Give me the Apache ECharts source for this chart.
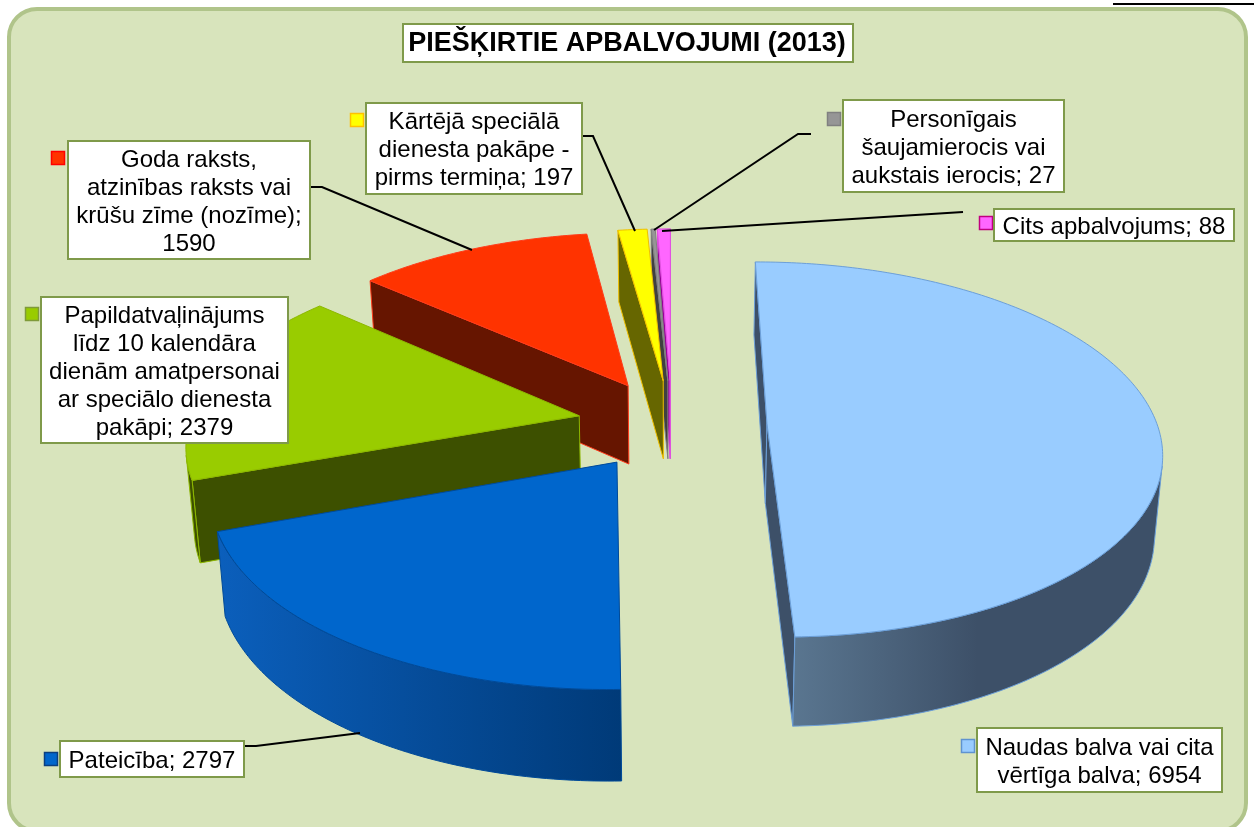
<!DOCTYPE html>
<html>
<head>
<meta charset="utf-8">
<style>html,body{margin:0;padding:0;background:#fff}#c{width:1254px;height:827px}</style>
<script src="https://cdn.jsdelivr.net/npm/echarts@6/dist/echarts.min.js"></script>
</head>
<body>
<div id="c"></div>
<script>
var chartTitle = 'PIEŠĶIRTIE APBALVOJUMI (2013)';
var categories = [
  'Naudas balva vai cita\nvērtīga balva',
  'Pateicība',
  'Papildatvaļinājums\nlīdz 10 kalendāra\ndienām amatpersonai\nar speciālo dienesta\npakāpi',
  'Goda raksts,\natzinības raksts vai\nkrūšu zīme (nozīme);\n',
  'Kārtējā speciālā\ndienesta pakāpe -\npirms termiņa',
  'Personīgais\nšaujamierocis vai\naukstais ierocis',
  'Cits apbalvojums'
];
var awardValues = [6954, 2797, 2379, 1590, 197, 27, 88];

var topColors  = ['#99ccff', '#0066cc', '#99cc00', '#ff3300', '#ffff00', '#969696', '#ff66ff'];
var wallColors = ['#3d5068', '#00509f', '#3d5000', '#661500', '#666600', '#404040', '#990099'];
var edgeColors = ['#6c9fd8', '#004a99', '#8db800', '#ff3b1a', '#f0c000', '#808080', '#e050e0'];
var keyBorders = ['#5f93d0', '#0a3f80', '#7f9a3a', '#ff0000', '#ffc000', '#808080', '#c00080'];
var wallGradients = [
  ['#5a7690', '#3d5068', 0.5],
  ['#0b5fbc', '#003a78', 1],
  null, null, null, null, null
];
var boxes = [
  [977, 728, 245, 64], [60, 741, 184, 36], [41, 297, 247, 146], [68, 141, 242, 118],
  [366, 103, 216, 91], [843, 100, 221, 92], [994, 209, 240, 32]
];
var keys = [[961, 739], [44, 752], [25, 307], [51, 151], [350, 113], [827, 112], [979, 216]];
var leaders = [
  null,
  [[244, 746], [256, 746], [360, 733]],
  null,
  [[310, 187], [322, 187], [472, 250]],
  [[582, 136], [593, 136], [635, 231]],
  [[811, 134], [798, 134], [654, 230]],
  [[963, 212], [662, 231]]
];

// 3D pie projection parameters
var cx = 672, cy = 424, R = 390, explode = 95, tilt = 0.472, depth = 2802, thick = 80, shrink = 0.983;

var total = awardValues.reduce(function (a, b) { return a + b; }, 0);
var slices = [];
var cum = 0;
awardValues.forEach(function (v, i) {
  var a0 = cum / total * Math.PI * 2;
  cum += v;
  var a1 = cum / total * Math.PI * 2;
  slices.push({ i: i, a0: a0, a1: a1, mid: (a0 + a1) / 2 });
});
// Paint back to front
var paintOrder = slices.slice().sort(function (p, q) { return Math.cos(q.mid) - Math.cos(p.mid); });

function proj(X, Y, bottom) {
  var s = 1 / (1 - Y / depth);
  var f = bottom ? shrink : 1;
  return [cx + X * s * f, cy + tilt * Y * s * f + (bottom ? thick * s : 0)];
}
function area(p) {
  var t = 0;
  for (var i = 0; i < p.length; i++) {
    var a = p[i], b = p[(i + 1) % p.length];
    t += a[0] * b[1] - b[0] * a[1];
  }
  return t;
}
function sliceShapes(sl) {
  var ox = explode * Math.sin(sl.mid), oy = -explode * Math.cos(sl.mid);
  var steps = Math.max(3, Math.ceil((sl.a1 - sl.a0) / 0.015));
  var world = [];
  for (var k = 0; k <= steps; k++) {
    var a = sl.a0 + (sl.a1 - sl.a0) * k / steps;
    world.push([ox + R * Math.sin(a), oy - R * Math.cos(a)]);
  }
  var topArc = world.map(function (w) { return proj(w[0], w[1], false); });
  var botArc = world.map(function (w) { return proj(w[0], w[1], true); });
  var apexT = proj(ox, oy, false), apexB = proj(ox, oy, true);
  var out = [];
  var i = sl.i;

  function poly(points, fill) {
    out.push({
      type: 'polygon', shape: { points: points },
      style: { fill: fill, stroke: edgeColors[i], lineWidth: 1 }
    });
  }
  // radial walls
  var w0 = [apexT, topArc[0], botArc[0], apexB];
  if (area(w0) < 0) poly(w0, wallColors[i]);
  var n = topArc.length - 1;
  var w1 = [topArc[n], apexT, apexB, botArc[n]];
  if (area(w1) < 0) poly(w1, wallColors[i]);
  // outer wall: contiguous visible run(s)
  var run = null;
  function flush() {
    if (!run) return;
    var pts = [];
    for (var m = run[0]; m <= run[1]; m++) pts.push(topArc[m]);
    for (var q = run[1]; q >= run[0]; q--) pts.push(botArc[q]);
    var g = wallGradients[i];
    var fill = g
      ? new echarts.graphic.LinearGradient(0, 0, 1, 0, [
          { offset: 0, color: g[0] }, { offset: g[2], color: g[1] }, { offset: 1, color: g[1] }
        ])
      : wallColors[i];
    poly(pts, fill);
    run = null;
  }
  for (var j = 0; j < n; j++) {
    var vis = area([topArc[j], topArc[j + 1], botArc[j + 1], botArc[j]]) < 0;
    if (vis) { if (run) run[1] = j + 1; else run = [j, j + 1]; }
    else flush();
  }
  flush();
  // top face
  poly([apexT].concat(topArc), topColors[i]);
  return out;
}

var fontFam = '"Liberation Sans", Arial, sans-serif';
var chart = echarts.init(document.getElementById('c'), null, { renderer: 'canvas' });

chart.setOption({
  animation: false,
  backgroundColor: '#ffffff',
  graphic: [
    { type: 'rect', silent: true, z: 0,
      shape: { x: 9, y: 9, width: 1237, height: 822, r: 28 },
      style: { fill: '#d8e4bc', stroke: '#b0c48a', lineWidth: 4 } },
    { type: 'line', silent: true, z: 0,
      shape: { x1: 1113, y1: 4, x2: 1254, y2: 4 },
      style: { stroke: '#000', lineWidth: 2 } }
  ],
  series: [
    {
      type: 'custom', coordinateSystem: 'none', silent: true, z: 2,
      data: paintOrder.map(function (s) { return [slices.indexOf(s), awardValues[s.i]]; }),
      renderItem: function (params, api) {
        return { type: 'group', children: sliceShapes(slices[api.value(0)]) };
      }
    },
    {
      type: 'custom', coordinateSystem: 'none', silent: true, z: 3,
      data: awardValues.map(function (v, i) { return [i, v]; }),
      renderItem: function (params, api) {
        var i = api.value(0), v = api.value(1), b = boxes[i], k = keys[i], ch = [];
        if (leaders[i]) {
          ch.push({ type: 'polyline', shape: { points: leaders[i] },
            style: { fill: null, stroke: '#000', lineWidth: 2 } });
        }
        ch.push({ type: 'rect', shape: { x: k[0] + 0.5, y: k[1] + 0.5, width: 13, height: 13 },
          style: { fill: topColors[i], stroke: keyBorders[i], lineWidth: 1.5 } });
        ch.push({ type: 'rect', shape: { x: b[0], y: b[1], width: b[2], height: b[3] },
          style: { fill: '#fff', stroke: '#7f9a4a', lineWidth: 2 } });
        var name = categories[i];
        var sep = name.charAt(name.length - 1) === '\n' ? '' : '; ';
        ch.push({ type: 'text',
          style: { text: name + sep + v, x: b[0] + b[2] / 2, y: b[1] + b[3] / 2 + 2,
            align: 'center', verticalAlign: 'middle', fill: '#000',
            font: '24px ' + fontFam, lineHeight: 28 } });
        return { type: 'group', children: ch };
      }
    },
    {
      type: 'custom', coordinateSystem: 'none', silent: true, z: 3,
      data: [[0]],
      renderItem: function () {
        return { type: 'group', children: [
          { type: 'rect', shape: { x: 403, y: 24, width: 450, height: 38 },
            style: { fill: '#fff', stroke: '#7f9a4a', lineWidth: 2 } },
          { type: 'text', style: { text: chartTitle, x: 627, y: 44, align: 'center', verticalAlign: 'middle',
            fill: '#000', font: 'bold 27px ' + fontFam } }
        ] };
      }
    }
  ]
});
</script>
</body>
</html>
